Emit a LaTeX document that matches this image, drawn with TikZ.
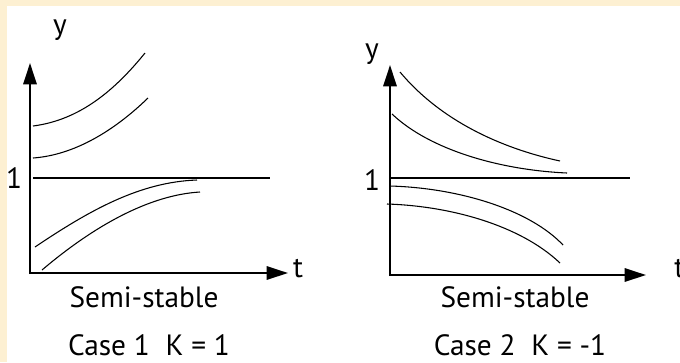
\documentclass[tikz,border=0pt]{standalone}
\usepackage{fontspec}
\setmainfont{PT Sans}
\usepackage{tikz}
\usetikzlibrary{arrows.meta,positioning,calc}
\definecolor{creamedge}{HTML}{FDF0D2}
\tikzset{
  axis/.style={line width=1.6pt, -{Triangle[length=16pt,width=10pt]}},
  trajectory/.style={line width=0.8pt},
  level/.style={line width=0.8pt},
  lbl/.style={anchor=base, inner sep=0pt}
}

\begin{document}
\begin{tikzpicture}[x=0.75pt,y=-0.75pt, every node/.style={font=\fontsize{22}{26}\selectfont,align=center}]
  % frame
  \fill[creamedge] (0,0) rectangle (680,362);
  \fill[white] (7,6) rectangle (680,362);
  \useasboundingbox (0,0) rectangle (680,362);

  % Case 1
  \coordinate (o1) at (30,273);
  \coordinate (ytip1) at (30,63);
  \coordinate (ttip1) at (288,273);
  \draw[axis] ($(o1)+(0,1)$) -- (ytip1);
  \draw[axis] ($(o1)+(-1,0)$) -- (ttip1);
  \node[lbl] (ylab1) at (60,34) {y};
  \node[lbl] (tlab1) at (298,277) {t};
  \node[lbl] (one1) at (14,188) {1};
  \draw[level] (33,178) -- (270,178);
  \draw[trajectory] (33,126) .. controls (80,120) and (115,90) .. (145,53);
  \draw[trajectory] (33,158) .. controls (75,155) and (115,130) .. (148,98);
  \draw[trajectory] (35,247) .. controls (90,210) and (140,182) .. (197,180);
  \draw[trajectory] (42,270) .. controls (95,225) and (150,195) .. (200,192);
  \node[lbl] (kind1) at (144,307) {Semi-stable};
  \node[lbl] (case1) at (149,355) {Case 1\ \ K = 1};

  % Case 2
  \coordinate (o2) at (390,275);
  \coordinate (ytip2) at (390,65);
  \coordinate (ttip2) at (646,275);
  \draw[axis] ($(o2)+(0,1)$) -- (ytip2);
  \draw[axis] ($(o2)+(-1,0)$) -- (ttip2);
  \node[lbl] (ylab2) at (372,58) {y};
  \node[lbl,anchor=base west] (tlab2) at (674,277) {t};
  \node[lbl] (one2) at (372,190) {1};
  \draw[level] (390,178) -- (630,178);
  \draw[trajectory] (400,72) .. controls (440,120) and (500,148) .. (560,161);
  \draw[trajectory] (392,114) .. controls (430,150) and (500,170) .. (567,173);
  \draw[trajectory] (390,186) .. controls (460,188) and (530,210) .. (563,245);
  \draw[trajectory] (387,204) .. controls (450,206) and (520,225) .. (560,263);
  \node[lbl] (kind2) at (515,307) {Semi-stable};
  \node[lbl] (case2) at (520,355) {Case 2\ \ K = -1};
\end{tikzpicture}
\end{document}
